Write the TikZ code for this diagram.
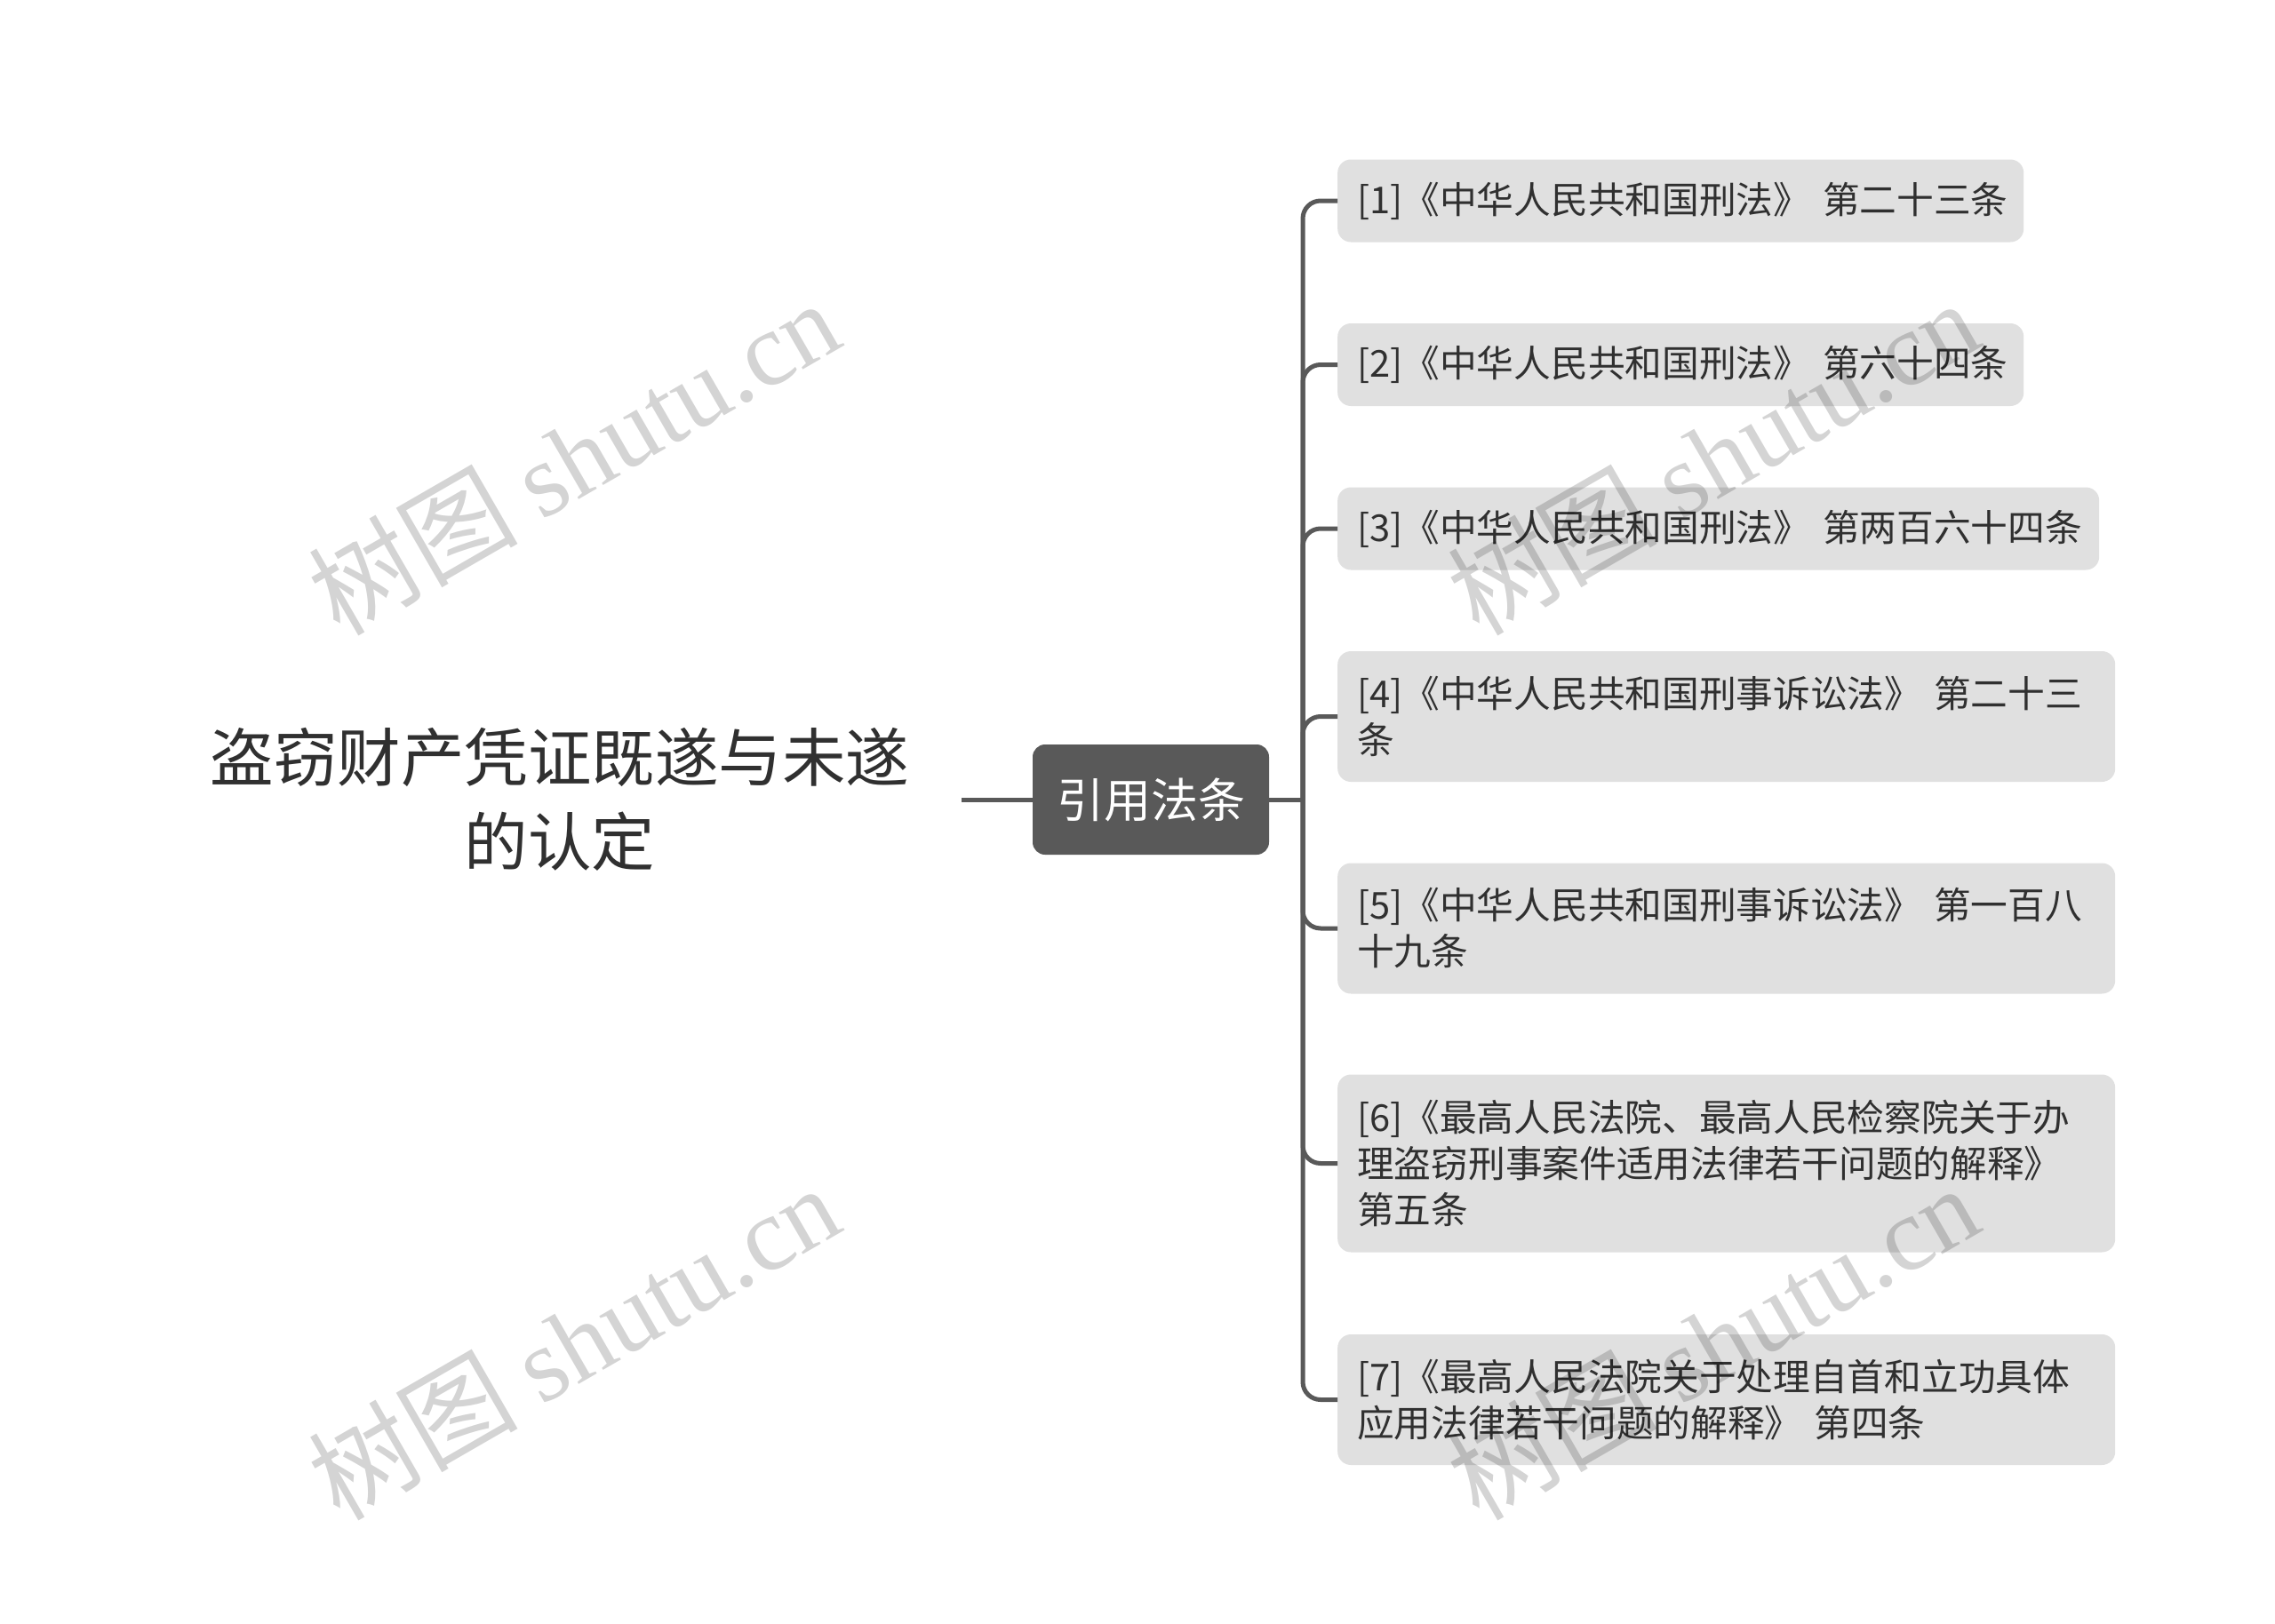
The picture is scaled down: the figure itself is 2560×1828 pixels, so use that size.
\documentclass[tikz,border=0pt]{standalone}
\usepackage{fontspec}
\setmainfont{Noto Sans CJK SC}
\newfontfamily\wmlatin{Liberation Serif}
\newfontfamily\wmcjk{Noto Sans CJK SC}
\definecolor{linegray}{HTML}{595959}
\definecolor{leafgray}{HTML}{E0E0E0}
\definecolor{textdark}{HTML}{303030}
\begin{document}
\begin{tikzpicture}[x=1pt,y=-1pt,
  conn/.style={draw=linegray, line width=5pt, rounded corners=20pt},
  leaf/.style={rectangle, rounded corners=15pt, fill=leafgray, text=textdark,
    font=\fontsize{41.7}{52}\selectfont, align=left, inner xsep=22pt, inner ysep=0pt, anchor=west},
  midbox/.style={rectangle, rounded corners=14pt, fill=linegray, text=white,
    font=\fontsize{53}{60}\selectfont, minimum width=266pt, minimum height=124pt, inner sep=0pt},
  rootbox/.style={font=\fontsize{71.5}{95}\selectfont, text=textdark, align=center, inner xsep=59pt, inner ysep=0pt},
  wm/.style={text=black, text opacity=0.17, font=\fontsize{118}{118}\selectfont, rotate=30, inner sep=0pt}
]
\useasboundingbox (0,0) rectangle (2560,1828);
\fill[white] (0,0) rectangle (2560,1828);

\node[rootbox] (root) at (630,900) {盗窃财产凭证既遂与未遂\\的认定};
\node[midbox] (mid) at (1295,900) {引用法条};
\coordinate (trunk) at (1466,900);

\node[leaf, text width=728pt, minimum height=93pt] (c1) at (1505,226) {[1]《中华人民共和国刑法》~第二十三条};
\node[leaf, text width=728pt, minimum height=93pt] (c2) at (1505,410.5) {[2]《中华人民共和国刑法》~第六十四条};
\node[leaf, text width=813pt, minimum height=93pt] (c3) at (1505,595) {[3]《中华人民共和国刑法》~第两百六十四条};
\node[leaf, text width=831pt, minimum height=147pt] (c4) at (1505,806.5) {[4]《中华人民共和国刑事诉讼法》~第二十三\\条};
\node[leaf, text width=831pt, minimum height=147pt] (c5) at (1505,1045) {[5]《中华人民共和国刑事诉讼法》~第一百八\\十九条};
\node[leaf, text width=831pt, minimum height=200pt] (c6) at (1505,1309.5) {[6]《最高人民法院、最高人民检察院关于办\\理盗窃刑事案件适用法律若干问题的解释》\\第五条};
\node[leaf, text width=831pt, minimum height=147pt] (c7) at (1505,1575.5) {[7]《最高人民法院关于处理自首和立功具体\\应用法律若干问题的解释》~第四条};

\draw[conn] (root.east) -- (mid.west);
\draw[conn] (mid.east) -- (trunk);
\foreach \c in {c1,c2,c3,c4,c5,c6,c7}{
  \draw[conn] (trunk) |- (\c.west);
}

\node[wm] (w1) at (645,514) {{\wmcjk 树图} {\wmlatin shutu.cn}};
\node[wm] (w2) at (1927,514) {{\wmcjk 树图} {\wmlatin shutu.cn}};
\node[wm] (w3) at (645,1510) {{\wmcjk 树图} {\wmlatin shutu.cn}};
\node[wm] (w4) at (1927,1510) {{\wmcjk 树图} {\wmlatin shutu.cn}};
\end{tikzpicture}
\end{document}
